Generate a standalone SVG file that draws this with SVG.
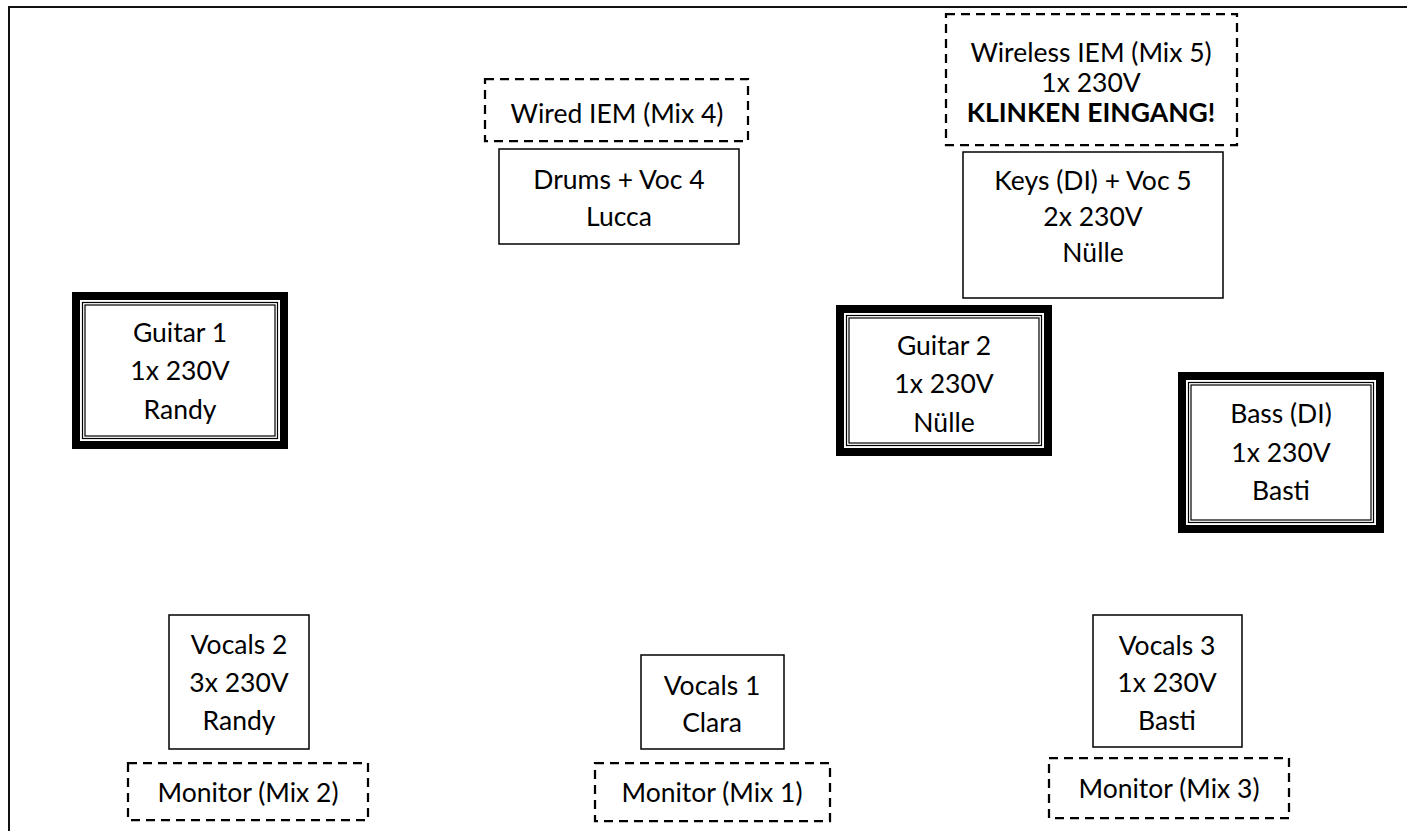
<svg xmlns="http://www.w3.org/2000/svg" width="1407" height="831" viewBox="0 0 1407 831">
<style>
text{font-family:Lato,"Open Sans","Liberation Sans",sans-serif;font-size:26.5px;fill:#000;text-anchor:middle}
.b{font-weight:bold}
.solid{fill:#fff;stroke:#000;stroke-width:1.5}
.dash{fill:#fff;stroke:#000;stroke-width:2.25;stroke-dasharray:9 6}
.thick{fill:#fff;stroke:#000;stroke-width:8}
.thin{fill:none;stroke:#000;stroke-width:1.2}
.frame{stroke:#111;stroke-width:2;fill:none}
</style>
<rect width="1407" height="831" fill="#fff"/>
<g id="frame">
<path class="frame" d="M9 831 V7 H1407"/>
</g>
<g id="connectors"/>
<g id="wired-iem">
<rect class="dash" x="485" y="79" width="263" height="62"/>
<text x="617" y="123">Wired IEM (Mix 4)</text>
</g>
<g id="drums">
<rect class="solid" x="499" y="149" width="240" height="95"/>
<text x="619" y="189">Drums + Voc 4</text>
<text x="619" y="226">Lucca</text>
</g>
<g id="wireless-iem">
<rect class="dash" x="946" y="14" width="291" height="131"/>
<text x="1091" y="62">Wireless IEM (Mix 5)</text>
<text x="1091" y="92">1x 230V</text>
<text x="1091" y="122" class="b">KLINKEN EINGANG!</text>
</g>
<g id="keys">
<rect class="solid" x="963" y="152" width="260" height="146"/>
<text x="1093" y="190">Keys (DI) + Voc 5</text>
<text x="1093" y="226">2x 230V</text>
<text x="1093" y="262">Nülle</text>
</g>
<g id="guitar1">
<rect class="thick" x="76" y="296" width="208" height="149"/>
<rect class="thin" x="82.5" y="302.5" width="195" height="136"/>
<rect class="thin" x="85" y="305" width="190" height="131"/>
<text x="180" y="342">Guitar 1</text>
<text x="180" y="380">1x 230V</text>
<text x="180" y="419">Randy</text>
</g>
<g id="guitar2">
<rect class="thick" x="840" y="309" width="208" height="143"/>
<rect class="thin" x="846.5" y="315.5" width="195" height="130"/>
<rect class="thin" x="849" y="318" width="190" height="125"/>
<text x="944" y="355">Guitar 2</text>
<text x="944" y="393">1x 230V</text>
<text x="944" y="432">Nülle</text>
</g>
<g id="bass">
<rect class="thick" x="1182" y="376" width="198" height="153"/>
<rect class="thin" x="1188.5" y="382.5" width="185" height="140"/>
<rect class="thin" x="1191" y="385" width="180" height="135"/>
<text x="1281" y="423">Bass (DI)</text>
<text x="1281" y="462">1x 230V</text>
<text x="1281" y="500">Basti</text>
</g>
<g id="vocals2">
<rect class="solid" x="169" y="615" width="140" height="134"/>
<text x="239" y="654">Vocals 2</text>
<text x="239" y="692">3x 230V</text>
<text x="239" y="730">Randy</text>
</g>
<g id="monitor2">
<rect class="dash" x="128" y="763" width="240" height="57"/>
<text x="248" y="802">Monitor (Mix 2)</text>
</g>
<g id="vocals1">
<rect class="solid" x="641" y="655" width="143" height="94"/>
<text x="712" y="695">Vocals 1</text>
<text x="712" y="732">Clara</text>
</g>
<g id="monitor1">
<rect class="dash" x="595" y="763" width="235" height="58"/>
<text x="712" y="802">Monitor (Mix 1)</text>
</g>
<g id="vocals3">
<rect class="solid" x="1093" y="615" width="149" height="132"/>
<text x="1167" y="655">Vocals 3</text>
<text x="1167" y="692">1x 230V</text>
<text x="1167" y="730">Basti</text>
</g>
<g id="monitor3">
<rect class="dash" x="1049" y="758" width="240" height="60"/>
<text x="1169" y="798">Monitor (Mix 3)</text>
</g>
</svg>
